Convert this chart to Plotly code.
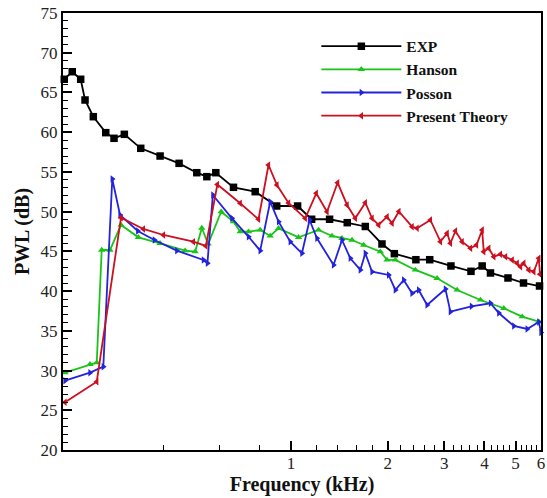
import plotly.graph_objects as go
import math

# ---- data (frequency in kHz, PWL in dB) ----
exp_f = [0.1971, 0.2087, 0.2217, 0.2287, 0.2427, 0.2653, 0.2815, 0.3031, 0.3409, 0.3916,
         0.4487, 0.5094, 0.5474, 0.5838, 0.6626, 0.774, 0.903, 1.049, 1.16, 1.319,
         1.497, 1.704, 1.920, 2.098, 2.448, 2.703, 3.147, 3.633, 3.936, 4.178,
         4.736, 5.293, 5.937]
exp_pwl = [66.66, 67.61, 66.66, 64.05, 61.95, 59.94, 59.23, 59.73, 57.97, 57.00,
           56.08, 54.90, 54.40, 54.90, 53.06, 52.51, 50.71, 50.71, 49.04, 49.04,
           48.61, 48.13, 45.93, 44.71, 43.95, 43.95, 43.16, 42.49, 43.16, 42.28,
           41.65, 41.02, 40.64]

hanson_f = [0.1981, 0.2370, 0.2487, 0.2577, 0.2735, 0.2960, 0.3351, 0.3916, 0.4686, 0.5034,
            0.5281, 0.5526, 0.6066, 0.6626, 0.6952, 0.7378, 0.8023, 0.8618, 0.9150, 1.056,
            1.219, 1.342, 1.442, 1.549, 1.684, 1.898, 1.991, 2.113, 2.439, 2.850,
            3.289, 3.889, 4.596, 5.244, 5.906]
hanson_pwl = [29.73, 30.79, 30.99, 45.17, 45.17, 48.32, 46.77, 46.02, 45.09, 44.96,
              47.94, 45.93, 49.99, 48.74, 47.48, 47.48, 47.69, 46.94, 47.90, 46.77,
              47.69, 46.94, 46.65, 46.43, 45.80, 44.96, 43.92, 43.92, 42.66, 41.61,
              40.14, 38.88, 37.84, 36.78, 36.15]

posson_f = [0.1981, 0.2370, 0.2607, 0.2780, 0.2939, 0.3337, 0.3759, 0.4414, 0.5342, 0.5497,
            0.5715, 0.6551, 0.7378, 0.8023, 0.8618, 0.9150, 0.995, 1.082, 1.143, 1.205,
            1.357, 1.442, 1.530, 1.644, 1.704, 1.788, 2.014, 2.113, 2.243, 2.382,
            2.497, 2.653, 3.025, 3.135, 3.646, 4.178, 4.434, 4.937, 5.435, 5.906, 6.0]
posson_pwl = [28.73, 29.73, 30.49, 54.11, 49.58, 47.56, 46.43, 45.09, 43.92, 43.50,
              52.10, 49.16, 46.85, 45.09, 51.25, 48.74, 46.22, 44.76, 48.95, 46.65,
              43.29, 46.43, 44.13, 42.66, 44.76, 42.44, 42.03, 40.14, 41.40, 39.72,
              40.14, 38.25, 40.27, 37.41, 38.09, 38.47, 37.24, 35.61, 35.23, 36.11, 34.8]

present_f = [0.1981, 0.2487, 0.2960, 0.3473, 0.4010, 0.4970, 0.5435, 0.5904, 0.6952, 0.7927,
             0.8516, 0.9045, 0.9829, 1.108, 1.199, 1.295, 1.397, 1.495, 1.586, 1.704,
             1.788, 1.875, 1.991, 2.064, 2.167, 2.382, 2.469, 2.716, 2.919, 3.062,
             3.135, 3.250, 3.410, 3.620, 3.779, 3.936, 3.981, 4.127, 4.278, 4.487,
             4.652, 4.881, 5.058, 5.180, 5.304, 5.498, 5.698, 5.906, 5.958]
present_pwl = [26.01, 28.60, 49.24, 47.82, 47.06, 46.22, 45.68, 53.42, 51.05, 49.04,
               55.87, 53.35, 51.09, 49.16, 52.31, 49.99, 53.64, 50.84, 49.16, 51.13,
               49.16, 48.32, 49.36, 48.53, 50.02, 48.11, 47.90, 48.95, 46.22, 47.28,
               46.02, 47.56, 46.22, 45.39, 45.80, 47.69, 44.96, 45.39, 44.33, 44.63,
               44.33, 43.92, 43.50, 43.07, 43.50, 42.66, 42.44, 44.13, 42.12]

x_major = [1, 2, 3, 4, 5, 6]
x_major_text = ["1", "2", "3", "4", "5", "6"]
x_minor = [0.4, 0.6, 0.8, 1.2, 1.4, 1.6, 1.8, 2.2, 2.4, 2.6, 2.8, 3.2, 3.4, 3.6, 3.8,
           4.2, 4.4, 4.6, 4.8, 5.2, 5.4, 5.6, 5.8]

SERIF = "Liberation Serif, Times New Roman, serif"

series = [
    ("EXP", exp_f, exp_pwl, "#000000", "square", 7.5),
    ("Hanson", hanson_f, hanson_pwl, "#19c419", "triangle-up", 6.5),
    ("Posson", posson_f, posson_pwl, "#2323dd", "triangle-right", 6.5),
    ("Present Theory", present_f, present_pwl, "#cc1020", "triangle-left", 6.5),
]

fig = go.Figure()
for name, xs, ys, col, sym, sz in series:
    fig.add_trace(go.Scatter(
        x=xs, y=ys, name=name, mode="lines+markers",
        line=dict(color=col, width=1.8),
        marker=dict(symbol=sym, size=sz, color=col),
        cliponaxis=False,
    ))

fig.update_layout(
    width=547, height=498,
    margin=dict(l=63, r=6, t=13, b=48, autoexpand=False),
    paper_bgcolor="white", plot_bgcolor="white",
    font=dict(family=SERIF, color="#222222"),
    showlegend=True,
    legend=dict(
        x=0.53, y=0.962, xanchor="left", yanchor="top",
        bgcolor="rgba(0,0,0,0)", borderwidth=0,
        font=dict(family=SERIF, size=15.5, color="#111111", weight="bold"),
        tracegroupgap=0, itemwidth=80,
    ),
    xaxis=dict(
        type="log", range=[math.log10(0.1953), math.log10(6.0)],
        tickmode="array", tickvals=x_major, ticktext=x_major_text,
        ticks="inside", ticklen=9, tickwidth=1.5, tickcolor="#000",
        showline=True, linecolor="#000", linewidth=2, mirror=True,
        showgrid=False, zeroline=False,
        tickfont=dict(family=SERIF, size=17, color="#222"),
        ticklabelstandoff=-3,
        minor=dict(tickmode="array", tickvals=x_minor, ticks="inside",
                   ticklen=5, tickwidth=1, tickcolor="#000", showgrid=False),
        title=dict(text="Frequency (kHz)", standoff=3,
                   font=dict(family=SERIF, size=20, color="#111", weight="bold")),
    ),
    yaxis=dict(
        range=[20, 75], dtick=5, tick0=20,
        ticks="inside", ticklen=9, tickwidth=1.5, tickcolor="#000",
        showline=True, linecolor="#000", linewidth=2, mirror=True,
        showgrid=False, zeroline=False,
        tickfont=dict(family=SERIF, size=17, color="#222"),
        minor=dict(dtick=1, ticks="inside", ticklen=5, tickwidth=1,
                   tickcolor="#000", showgrid=False),
        title=dict(text="PWL (dB)", standoff=6,
                   font=dict(family=SERIF, size=20, color="#111", weight="bold")),
    ),
)

fig.write_html(
    "out.html",
    config={"displayModeBar": False},
    post_script="document.body.style.margin='0';document.body.style.padding='0';",
)
